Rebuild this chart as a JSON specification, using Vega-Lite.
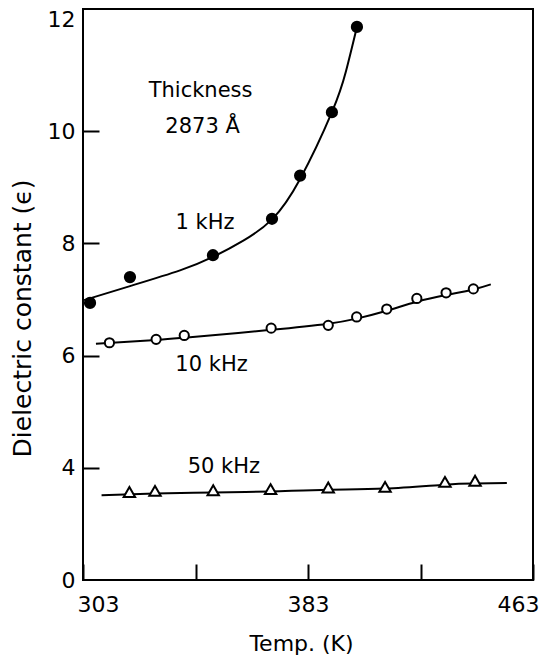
{
  "$schema": "https://vega.github.io/schema/vega-lite/v6.json",
  "width": 450,
  "height": 571,
  "autosize": "none",
  "padding": {"left": 83, "top": 9, "right": 12, "bottom": 80},
  "background": "white",
  "config": {
    "view": {"stroke": "black", "strokeWidth": 2},
    "font": "DejaVu Sans"
  },
  "datasets": {
    "points": [
      {"series": "1 kHz", "T": 305.5, "eps": 6.94},
      {"series": "1 kHz", "T": 319.7, "eps": 7.40},
      {"series": "1 kHz", "T": 349.2, "eps": 7.79},
      {"series": "1 kHz", "T": 370.2, "eps": 8.44},
      {"series": "1 kHz", "T": 380.2, "eps": 9.21},
      {"series": "1 kHz", "T": 391.5, "eps": 10.34},
      {"series": "1 kHz", "T": 400.4, "eps": 11.86},
      {"series": "10 kHz", "T": 312.4, "eps": 6.23},
      {"series": "10 kHz", "T": 329.0, "eps": 6.29},
      {"series": "10 kHz", "T": 339.0, "eps": 6.36},
      {"series": "10 kHz", "T": 369.9, "eps": 6.49},
      {"series": "10 kHz", "T": 390.2, "eps": 6.54},
      {"series": "10 kHz", "T": 400.3, "eps": 6.69},
      {"series": "10 kHz", "T": 411.0, "eps": 6.83},
      {"series": "10 kHz", "T": 421.7, "eps": 7.02},
      {"series": "10 kHz", "T": 432.1, "eps": 7.12},
      {"series": "10 kHz", "T": 441.8, "eps": 7.19},
      {"series": "50 kHz", "T": 319.5, "eps": 3.57},
      {"series": "50 kHz", "T": 328.6, "eps": 3.59},
      {"series": "50 kHz", "T": 349.3, "eps": 3.60},
      {"series": "50 kHz", "T": 369.7, "eps": 3.62},
      {"series": "50 kHz", "T": 390.2, "eps": 3.65},
      {"series": "50 kHz", "T": 410.4, "eps": 3.66},
      {"series": "50 kHz", "T": 431.7, "eps": 3.75},
      {"series": "50 kHz", "T": 442.4, "eps": 3.77}
    ],
    "fits": [
      {"series": "1 kHz", "T": 303.4, "eps": 6.99},
      {"series": "1 kHz", "T": 319.7, "eps": 7.24},
      {"series": "1 kHz", "T": 337.5, "eps": 7.52},
      {"series": "1 kHz", "T": 349.2, "eps": 7.76},
      {"series": "1 kHz", "T": 360.0, "eps": 8.05},
      {"series": "1 kHz", "T": 370.2, "eps": 8.43},
      {"series": "1 kHz", "T": 380.2, "eps": 9.15},
      {"series": "1 kHz", "T": 391.5, "eps": 10.34},
      {"series": "1 kHz", "T": 396.5, "eps": 11.07},
      {"series": "1 kHz", "T": 400.4, "eps": 11.86},
      {"series": "10 kHz", "T": 307.6, "eps": 6.21},
      {"series": "10 kHz", "T": 329.0, "eps": 6.28},
      {"series": "10 kHz", "T": 339.0, "eps": 6.32},
      {"series": "10 kHz", "T": 369.9, "eps": 6.46},
      {"series": "10 kHz", "T": 390.2, "eps": 6.57},
      {"series": "10 kHz", "T": 400.3, "eps": 6.66},
      {"series": "10 kHz", "T": 411.0, "eps": 6.80},
      {"series": "10 kHz", "T": 421.7, "eps": 6.96},
      {"series": "10 kHz", "T": 432.1, "eps": 7.08},
      {"series": "10 kHz", "T": 441.8, "eps": 7.18},
      {"series": "10 kHz", "T": 448.0, "eps": 7.27},
      {"series": "50 kHz", "T": 309.6, "eps": 3.51},
      {"series": "50 kHz", "T": 328.6, "eps": 3.54},
      {"series": "50 kHz", "T": 349.3, "eps": 3.56},
      {"series": "50 kHz", "T": 369.7, "eps": 3.58},
      {"series": "50 kHz", "T": 390.2, "eps": 3.61},
      {"series": "50 kHz", "T": 410.4, "eps": 3.63},
      {"series": "50 kHz", "T": 431.7, "eps": 3.70},
      {"series": "50 kHz", "T": 442.4, "eps": 3.72},
      {"series": "50 kHz", "T": 453.7, "eps": 3.73}
    ],
    "notes": [
      {"text": "Thickness", "T": 344.8, "eps": 10.72},
      {"text": "2873 Å", "T": 345.5, "eps": 10.08},
      {"text": "1 kHz", "T": 346.4, "eps": 8.36},
      {"text": "10 kHz", "T": 348.7, "eps": 5.84},
      {"text": "50 kHz", "T": 353.1, "eps": 4.01}
    ]
  },
  "layer": [
    {
      "data": {"name": "fits"},
      "mark": {"type": "line", "color": "black", "strokeWidth": 2, "interpolate": "natural"},
      "encoding": {
        "x": {
          "field": "T", "type": "quantitative",
          "scale": {"domain": [303, 463], "nice": false, "zero": false},
          "axis": {
            "title": "Temp. (K)",
            "values": [303, 343, 383, 423, 463],
            "format": "d",
            "labelExpr": "datum.value == 343 || datum.value == 423 ? '' : datum.label",
            "labelOverlap": false,
            "domain": false, "grid": false,
            "tickSize": -16, "tickWidth": 2, "tickColor": "black",
            "labelPadding": 30, "labelFontSize": 22, "labelColor": "black",
            "labelFont": "DejaVu Sans",
            "labelFlush": true, "labelFlushOffset": 6,
            "titleFont": "DejaVu Sans", "titleFontSize": 22, "titleFontWeight": "normal", "titleColor": "black",
            "titleX": 218, "titleY": 63, "titleBaseline": "middle", "titleAnchor": "middle"
          }
        },
        "y": {
          "field": "eps", "type": "quantitative",
          "scale": {"domain": [2, 12.18], "nice": false, "zero": false},
          "axis": {
            "title": "Dielectric constant (ϵ)",
            "values": [2, 4, 6, 8, 10, 12],
            "format": "d",
            "labelExpr": "datum.value == 2 ? '0' : datum.label",
            "labelOverlap": false,
            "domain": false, "grid": false,
            "tickSize": -16, "tickWidth": 2, "tickColor": "black",
            "tickOpacity": {"condition": {"test": "datum.value == 12 || datum.value == 2", "value": 0}, "value": 1},
            "labelPadding": 24, "labelFontSize": 22, "labelColor": "black",
            "labelFont": "DejaVu Sans",
            "titleFont": "DejaVu Sans", "titleFontSize": 25, "titleFontWeight": "normal", "titleColor": "black",
            "titleX": -61, "titleY": 309, "titleBaseline": "middle", "titleAnchor": "middle"
          }
        },
        "detail": {"field": "series"}
      }
    },
    {
      "data": {"name": "points"},
      "transform": [{"filter": "datum.series == '1 kHz'"}],
      "mark": {"type": "point", "shape": "circle", "filled": true, "fill": "black", "stroke": "black", "size": 105, "opacity": 1},
      "encoding": {
        "x": {"field": "T", "type": "quantitative"},
        "y": {"field": "eps", "type": "quantitative"}
      }
    },
    {
      "data": {"name": "points"},
      "transform": [{"filter": "datum.series == '10 kHz'"}],
      "mark": {"type": "point", "shape": "circle", "filled": true, "fill": "white", "stroke": "black", "strokeWidth": 2, "size": 85, "opacity": 1},
      "encoding": {
        "x": {"field": "T", "type": "quantitative"},
        "y": {"field": "eps", "type": "quantitative"}
      }
    },
    {
      "data": {"name": "points"},
      "transform": [{"filter": "datum.series == '50 kHz'"}],
      "mark": {"type": "point", "shape": "triangle-up", "filled": true, "fill": "white", "stroke": "black", "strokeWidth": 2, "size": 130, "opacity": 1},
      "encoding": {
        "x": {"field": "T", "type": "quantitative"},
        "y": {"field": "eps", "type": "quantitative"}
      }
    },
    {
      "data": {"name": "notes"},
      "mark": {"type": "text", "font": "DejaVu Sans", "fontSize": 21, "align": "center", "baseline": "middle", "color": "black"},
      "encoding": {
        "x": {"field": "T", "type": "quantitative"},
        "y": {"field": "eps", "type": "quantitative"},
        "text": {"field": "text"}
      }
    }
  ]
}
